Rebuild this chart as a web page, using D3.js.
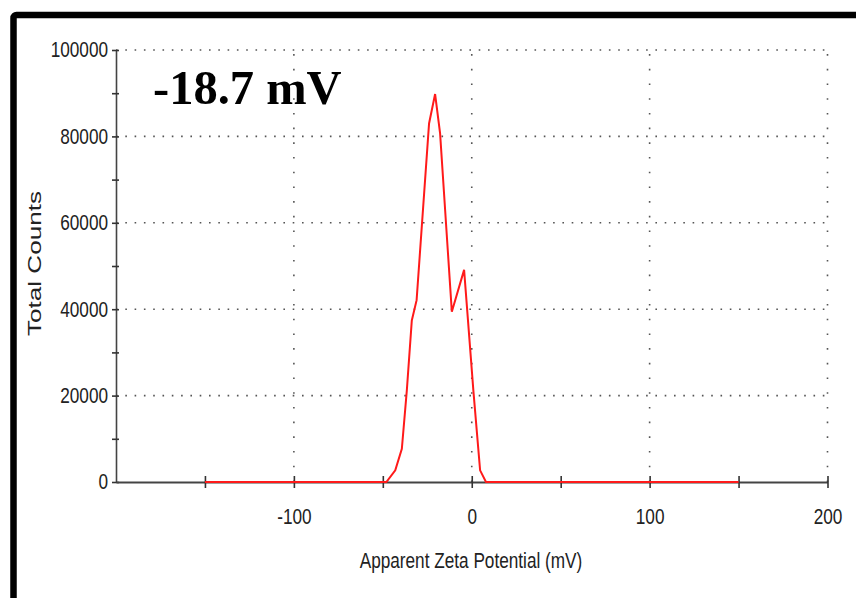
<!DOCTYPE html>
<html>
<head>
<meta charset="utf-8">
<script src="https://cdn.jsdelivr.net/npm/d3@7"></script>
<style>
  body { margin: 0; background: #fff; }
  svg text { font-family: "Liberation Sans", Arial, sans-serif; fill: #222; }
</style>
</head>
<body>
<script>
const w = 856;
const h = 598;
const squeeze = 0.8; // labels in the source use a narrow face

// ----- DATA -----
const potential = [-150, -48, -43, -39.3, -36.5, -33.7, -31, -24, -20.6, -17.8, -11.2, -4.3, 0.9, 4.7, 8, 150];
const counts = [0, 0, 2700, 7700, 21200, 37400, 42100, 83000, 89800, 80700, 39400, 49100, 21200, 2700, 0, 0];

const xMajor = [-100, 0, 100, 200];
const xMinor = [-150, -50, 50, 150];
const yMajor = [0, 20000, 40000, 60000, 80000, 100000];
const yMinor = [10000, 30000, 50000, 70000, 90000];

const zetaLabel = "-18.7 mV";

// ----- SCALES -----
const x = d3.scaleLinear().domain([-200, 200]).range([116, 827.5]);
const y = d3.scaleLinear().domain([0, 100000]).range([482, 50]);

const svg = d3.select("body").append("svg")
  .attr("width", w)
  .attr("height", h);

// ----- FRAME -----
svg.append("rect")
  .attr("x", 13.5).attr("y", 15)
  .attr("width", 900).attr("height", 700)
  .attr("rx", 3)
  .attr("fill", "none")
  .attr("stroke", "#000")
  .attr("stroke-width", 6.5);

// ----- GRID -----
svg.append("g")
  .selectAll("line")
  .data(yMajor.filter(d => d > 0))
  .enter().append("line")
  .attr("x1", x(-200)).attr("x2", x(200))
  .attr("y1", d => y(d)).attr("y2", d => y(d))
  .attr("stroke", "#555")
  .attr("stroke-width", 1.6)
  .attr("stroke-dasharray", "1.6 7.7");

svg.append("g")
  .selectAll("line")
  .data(xMajor)
  .enter().append("line")
  .attr("x1", d => x(d)).attr("x2", d => x(d))
  .attr("y1", y(0)).attr("y2", y(100000))
  .attr("stroke", "#555")
  .attr("stroke-width", 1.6)
  .attr("stroke-dasharray", "1.6 13.1");

// ----- AXES -----
const yAxis = d3.axisLeft(y)
  .tickValues(yMajor.concat(yMinor))
  .tickSizeOuter(0)
  .tickFormat(d => yMajor.includes(d) ? d : "");

const gy = svg.append("g")
  .attr("transform", `translate(${x(-200)},0)`)
  .call(yAxis);
gy.select(".domain").attr("stroke", "#444").attr("stroke-width", 1.6);
gy.selectAll(".tick line").attr("x1", -4).attr("x2", 3).attr("stroke", "#333").attr("stroke-width", 1.6);
gy.selectAll(".tick text")
  .attr("x", -8 / squeeze)
  .attr("transform", `scale(${squeeze},1)`)
  .attr("font-size", 21.5)
  .style("font-family", null);

const xAxis = d3.axisBottom(x)
  .tickValues(xMajor.concat(xMinor))
  .tickSizeOuter(0)
  .tickFormat(d => xMajor.includes(d) ? d : "");

const gx = svg.append("g")
  .attr("transform", `translate(0,${y(0)})`)
  .call(xAxis);
gx.select(".domain").attr("stroke", "#444").attr("stroke-width", 2.2);
gx.selectAll(".tick line").attr("y1", -6).attr("y2", 6).attr("stroke", "#333").attr("stroke-width", 1.6);
gx.selectAll(".tick text")
  .attr("y", 42).attr("dy", 0)
  .attr("transform", `scale(${squeeze},1)`)
  .attr("font-size", 21.5)
  .style("font-family", null);

// ----- LINE -----
const pts = potential.map((p, i) => [p, counts[i]]);
svg.append("path")
  .datum(pts)
  .attr("fill", "none")
  .attr("stroke", "#ff1a1a")
  .attr("stroke-width", 2)
  .attr("d", d3.line().x(d => x(d[0])).y(d => y(d[1])));

// ----- LABELS -----
svg.append("text")
  .attr("x", 471 / squeeze)
  .attr("y", 568)
  .attr("transform", `scale(${squeeze},1)`)
  .attr("text-anchor", "middle")
  .attr("font-size", 21.5)
  .text("Apparent Zeta Potential (mV)");

svg.append("text")
  .attr("transform", "translate(40.5,263.5) rotate(-90) scale(1.45,1)")
  .attr("text-anchor", "middle")
  .attr("font-size", 18)
  .text("Total Counts");

svg.append("text")
  .attr("x", 153)
  .attr("y", 104)
  .attr("font-size", 48.5)
  .attr("font-weight", "bold")
  .style("font-family", "'Liberation Serif', 'Times New Roman', serif")
  .style("fill", "#000")
  .text(zetaLabel);
</script>
</body>
</html>
